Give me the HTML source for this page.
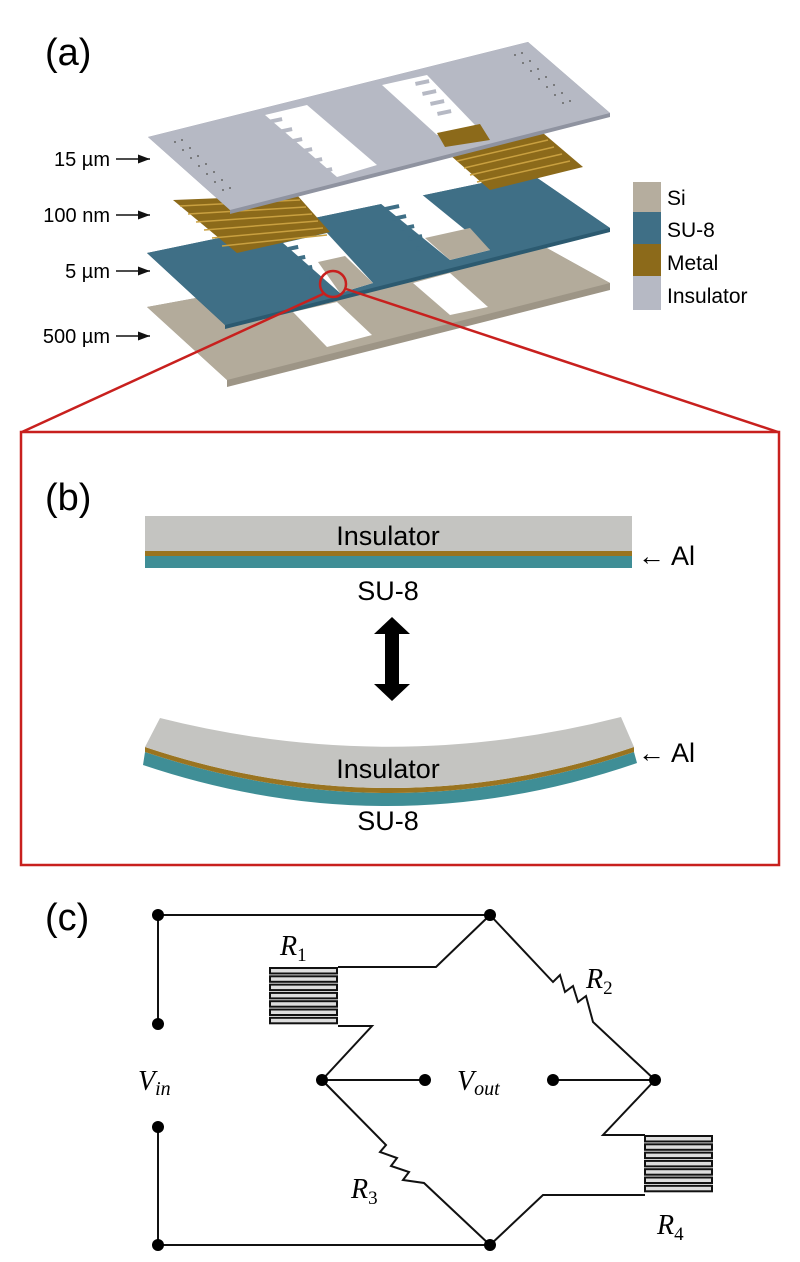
<!DOCTYPE html>
<html><head><meta charset="utf-8"><style>
html,body{margin:0;padding:0;background:#fff}
svg{display:block}
text{font-family:"Liberation Sans",sans-serif}
.m{font-family:"Liberation Serif",serif;font-style:italic}
</style></head><body>
<svg width="800" height="1262" viewBox="0 0 800 1262" xmlns="http://www.w3.org/2000/svg">
<defs>
<marker id="ar" markerWidth="8" markerHeight="6" refX="8" refY="3" orient="auto"><path d="M0,0 L8,3 L0,6 z" fill="#111"/></marker>
</defs>
<text x="45" y="65" font-size="38">(a)</text>
<!-- Si plate -->
<polygon points="147,307 527,237 610,283 610,290 227,387 227,380" fill="#9d9586"/>
<polygon points="147,307 527,237 610,283 227,380" fill="#b3ab9b"/>
<polygon points="293,312 337,302 372,335 327,347" fill="#fff"/>
<polygon points="413,283 450,273 488,307 450,315" fill="#fff"/>
<!-- SU-8 plate -->
<polygon points="147,253 530,173 610,228 610,232 225,329 225,325" fill="#2c5a70"/>
<polygon points="147,253 530,173 610,228 225,325" fill="#3f6f86"/>
<polygon points="283,243 327,233 373,283 340,293" fill="#fff"/>
<polygon points="318,262 345,256 373,283 340,293" fill="#b3ab9b"/>
<polygon points="380,203 420,193 490,250 450,260" fill="#fff"/>
<polygon points="425,238 470,228 490,250 450,260" fill="#b3ab9b"/>
<g fill="#3f6f86">
<rect x="288" y="247" width="10" height="4" transform="rotate(-12 288 247)"/>
<rect x="295" y="257" width="10" height="4" transform="rotate(-12 295 257)"/>
<rect x="302" y="267" width="10" height="4" transform="rotate(-12 302 267)"/>
<rect x="309" y="277" width="10" height="4" transform="rotate(-12 309 277)"/>
<rect x="385" y="207" width="14" height="4" transform="rotate(-12 385 207)"/>
<rect x="392" y="217" width="14" height="4" transform="rotate(-12 392 217)"/>
<rect x="400" y="227" width="14" height="4" transform="rotate(-12 400 227)"/>
<rect x="408" y="237" width="14" height="4" transform="rotate(-12 408 237)"/>
<rect x="416" y="247" width="14" height="4" transform="rotate(-12 416 247)"/>
</g>
<!-- Metal patches -->
<polygon points="173,200 297,195 330,232 237,253" fill="#8c6a1a"/>
<g stroke="#c9a040" stroke-width="1.5">
<line x1="180" y1="206" x2="300" y2="200"/><line x1="188" y1="214" x2="306" y2="207"/>
<line x1="196" y1="222" x2="312" y2="214"/><line x1="204" y1="230" x2="318" y2="221"/>
<line x1="212" y1="238" x2="323" y2="228"/><line x1="222" y1="246" x2="327" y2="235"/>
</g>
<polygon points="450,155 543,133 583,167 490,190" fill="#8c6a1a"/>
<g stroke="#c9a040" stroke-width="1.5">
<line x1="457" y1="161" x2="548" y2="140"/><line x1="464" y1="168" x2="554" y2="147"/>
<line x1="470" y1="175" x2="562" y2="154"/><line x1="477" y1="182" x2="570" y2="161"/>
</g>
<!-- Insulator top plate -->
<polygon points="148,137 528,42 610,113 610,117 230,214 230,210" fill="#8f93a0"/>
<polygon points="148,137 528,42 610,113 230,210" fill="#b6b9c4"/>
<polygon points="265,115 307,105 377,165 337,177" fill="#fff"/>
<polygon points="382,85 427,75 475,125 437,135" fill="#fff"/>
<g fill="#b6b9c4">
<rect x="268" y="120" width="14" height="4" transform="rotate(-12 268 120)"/>
<rect x="278" y="130" width="14" height="4" transform="rotate(-12 278 130)"/>
<rect x="288" y="140" width="14" height="4" transform="rotate(-12 288 140)"/>
<rect x="298" y="150" width="14" height="4" transform="rotate(-12 298 150)"/>
<rect x="308" y="160" width="14" height="4" transform="rotate(-12 308 160)"/>
<rect x="318" y="170" width="14" height="4" transform="rotate(-12 318 170)"/>
<rect x="415" y="82" width="14" height="4" transform="rotate(-12 415 82)"/>
<rect x="422" y="92" width="14" height="4" transform="rotate(-12 422 92)"/>
<rect x="430" y="102" width="14" height="4" transform="rotate(-12 430 102)"/>
<rect x="437" y="112" width="14" height="4" transform="rotate(-12 437 112)"/>
</g>
<polygon points="437,133 480,124 490,140 445,147" fill="#8c6a1a"/>
<g fill="#666">
<circle cx="175" cy="142" r="1"/><circle cx="183" cy="150" r="1"/><circle cx="191" cy="158" r="1"/><circle cx="199" cy="166" r="1"/><circle cx="207" cy="174" r="1"/><circle cx="215" cy="182" r="1"/><circle cx="223" cy="190" r="1"/>
<circle cx="182" cy="140" r="1"/><circle cx="190" cy="148" r="1"/><circle cx="198" cy="156" r="1"/><circle cx="206" cy="164" r="1"/><circle cx="214" cy="172" r="1"/><circle cx="222" cy="180" r="1"/><circle cx="230" cy="188" r="1"/>
<circle cx="515" cy="55" r="1"/><circle cx="523" cy="63" r="1"/><circle cx="531" cy="71" r="1"/><circle cx="539" cy="79" r="1"/><circle cx="547" cy="87" r="1"/><circle cx="555" cy="95" r="1"/><circle cx="563" cy="103" r="1"/>
<circle cx="522" cy="53" r="1"/><circle cx="530" cy="61" r="1"/><circle cx="538" cy="69" r="1"/><circle cx="546" cy="77" r="1"/><circle cx="554" cy="85" r="1"/><circle cx="562" cy="93" r="1"/><circle cx="570" cy="101" r="1"/>
</g>
<!-- red circle & lines -->
<circle cx="333" cy="284" r="13" fill="none" stroke="#c8201e" stroke-width="2.5"/>
<line x1="323" y1="294" x2="22" y2="432" stroke="#c8201e" stroke-width="2.5"/>
<line x1="346" y1="289" x2="778" y2="432" stroke="#c8201e" stroke-width="2.5"/>
<rect x="21" y="432" width="758" height="433" fill="none" stroke="#c8201e" stroke-width="2.5"/>
<!-- labels a -->
<g font-size="20" text-anchor="end">
<text x="110" y="166">15 µm</text><text x="110" y="222">100 nm</text>
<text x="110" y="278">5 µm</text><text x="110" y="343">500 µm</text>
</g>
<g stroke="#111" stroke-width="1.5" marker-end="url(#ar)">
<line x1="116" y1="159" x2="150" y2="159"/><line x1="116" y1="215" x2="150" y2="215"/>
<line x1="116" y1="271" x2="150" y2="271"/><line x1="116" y1="336" x2="150" y2="336"/>
</g>
<!-- legend -->
<rect x="633" y="182" width="28" height="30" fill="#b5ad9e"/>
<rect x="633" y="212" width="28" height="32" fill="#3f6f86"/>
<rect x="633" y="244" width="28" height="32" fill="#8c6a1a"/>
<rect x="633" y="276" width="28" height="34" fill="#b6b9c4"/>
<g font-size="21"><text x="667" y="205">Si</text><text x="667" y="237">SU-8</text><text x="667" y="270">Metal</text><text x="667" y="303">Insulator</text></g>
<!-- (b) -->
<text x="45" y="510" font-size="38">(b)</text>
<rect x="145" y="516" width="487" height="35" fill="#c4c4c1"/>
<rect x="145" y="551" width="487" height="5" fill="#9a7420"/>
<rect x="145" y="556" width="487" height="12" fill="#3f8e96"/>
<text x="388" y="545" font-size="27" text-anchor="middle">Insulator</text>
<text x="388" y="600" font-size="27" text-anchor="middle">SU-8</text>
<text x="638" y="565" font-size="27">← Al</text>
<polygon points="392,617 410,634 399,634 399,684 410,684 392,701 374,684 385,684 385,634 374,634" fill="#000"/>
<path d="M143,765 Q390,848 637,763 L634,752 Q390,834 145,752 Z" fill="#3f8e96"/>
<path d="M145,752 Q390,834 634,752 L634,747 Q390,829 145,747 Z" fill="#9a7420"/>
<path d="M160,718 Q390,776 621,717 L634,747 Q390,829 145,747 Z" fill="#c4c4c1"/>
<text x="388" y="778" font-size="27" text-anchor="middle">Insulator</text>
<text x="388" y="830" font-size="27" text-anchor="middle">SU-8</text>
<text x="638" y="762" font-size="27">← Al</text>
<!-- (c) -->
<text x="45" y="930" font-size="38">(c)</text>
<g stroke="#111" stroke-width="2" fill="none">
<polyline points="158,1024 158,915 490,915"/>
<polyline points="158,1127 158,1245 490,1245"/>
<polyline points="490,915 436,967 338,967"/>
<polyline points="338,1026 372,1026 322,1080 425,1080"/>
<polyline points="490,915 553,982 560,975 565,992 573,986 578,1002 586,996 593,1022 655,1080 553,1080"/>
<polyline points="322,1080 386,1145 380,1152 397,1158 391,1166 409,1172 403,1180 424,1183 490,1245"/>
<polyline points="655,1080 603,1135 645,1135"/>
<polyline points="490,1245 543,1195 645,1195"/>
</g>
<g stroke="#111" stroke-width="2" fill="#ddd">
<rect x="270" y="968" width="67" height="5.5"/><rect x="270" y="976.3" width="67" height="5.5"/>
<rect x="270" y="984.6" width="67" height="5.5"/><rect x="270" y="992.9" width="67" height="5.5"/>
<rect x="270" y="1001.2" width="67" height="5.5"/><rect x="270" y="1009.5" width="67" height="5.5"/>
<rect x="270" y="1017.8" width="67" height="5.5"/>
<rect x="645" y="1136" width="67" height="5.5"/><rect x="645" y="1144.3" width="67" height="5.5"/>
<rect x="645" y="1152.6" width="67" height="5.5"/><rect x="645" y="1160.9" width="67" height="5.5"/>
<rect x="645" y="1169.2" width="67" height="5.5"/><rect x="645" y="1177.5" width="67" height="5.5"/>
<rect x="645" y="1185.8" width="67" height="5.5"/>
</g>
<g fill="#000">
<circle cx="158" cy="915" r="6"/><circle cx="158" cy="1024" r="6"/><circle cx="158" cy="1127" r="6"/><circle cx="158" cy="1245" r="6"/>
<circle cx="490" cy="915" r="6"/><circle cx="490" cy="1245" r="6"/><circle cx="322" cy="1080" r="6"/><circle cx="425" cy="1080" r="6"/>
<circle cx="553" cy="1080" r="6"/><circle cx="655" cy="1080" r="6"/>
</g>
<g font-size="28">
<text x="280" y="955" class="m">R<tspan font-size="19" font-style="normal" dy="6">1</tspan></text>
<text x="586" y="988" class="m">R<tspan font-size="19" font-style="normal" dy="6">2</tspan></text>
<text x="351" y="1198" class="m">R<tspan font-size="19" font-style="normal" dy="6">3</tspan></text>
<text x="657" y="1234" class="m">R<tspan font-size="19" font-style="normal" dy="6">4</tspan></text>
<text x="138" y="1090" class="m">V<tspan font-size="20" dy="5">in</tspan></text>
<text x="457" y="1090" class="m">V<tspan font-size="20" dy="5">out</tspan></text>
</g>
</svg>
</body></html>
